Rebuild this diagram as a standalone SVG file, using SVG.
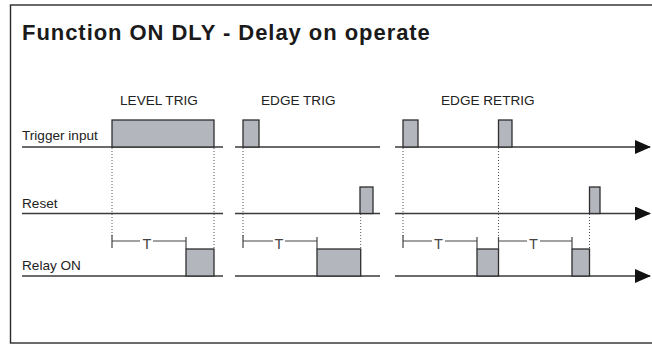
<svg xmlns="http://www.w3.org/2000/svg" width="652" height="345" viewBox="0 0 652 345">
<style>
.frame{fill:none;stroke:#2b2b2b;stroke-width:1.4}
.title{font-family:"Liberation Sans",Arial,sans-serif;font-weight:bold;font-size:22px;fill:#1a1a1a;letter-spacing:0.95px}
.lbl{font-family:"Liberation Sans",Arial,sans-serif;font-size:13.6px;fill:#222}
.tl{font-family:"Liberation Sans",Arial,sans-serif;font-size:14.5px;fill:#444}
.base{stroke:#3a3a3a;stroke-width:1.3;fill:none}
.pulse{fill:#b3b6bd;stroke:#2e2e2e;stroke-width:1.3}
.dot{stroke:#555;stroke-width:1;stroke-dasharray:1 2;fill:none}
.br{stroke:#444;stroke-width:1.2;fill:none}
</style>
<defs>
<marker id="arr" viewBox="0 0 16 14" refX="15" refY="7" markerWidth="16" markerHeight="14" markerUnits="userSpaceOnUse" orient="auto">
<path d="M0,0 L16,7 L0,14 Z" fill="#111"/>
</marker>
</defs>
<rect class="frame" x="10.5" y="5" width="660" height="338"/>
<g id="title"><text class="title" x="22" y="40">Function ON DLY - Delay on operate</text></g>
<g id="labels">
<text class="lbl" x="120" y="105">LEVEL TRIG</text>
<text class="lbl" x="261" y="105">EDGE TRIG</text>
<text class="lbl" x="441" y="105">EDGE RETRIG</text>
<text class="lbl" x="22" y="140">Trigger input</text>
<text class="lbl" x="22" y="208">Reset</text>
<text class="lbl" x="22" y="270">Relay ON</text>
</g>
<g id="connectors">
<line class="base" x1="22" y1="147" x2="223" y2="147"/>
<line class="base" x1="235" y1="147" x2="380" y2="147"/>
<line class="base" x1="395" y1="147" x2="650" y2="147" marker-end="url(#arr)"/>
<line class="base" x1="22" y1="213.5" x2="223" y2="213.5"/>
<line class="base" x1="235" y1="213.5" x2="380" y2="213.5"/>
<line class="base" x1="395" y1="213.5" x2="650" y2="213.5" marker-end="url(#arr)"/>
<line class="base" x1="22" y1="276" x2="223" y2="276"/>
<line class="base" x1="235" y1="276" x2="380" y2="276"/>
<line class="base" x1="395" y1="276" x2="650" y2="276" marker-end="url(#arr)"/>
<line class="dot" x1="112" y1="148" x2="112" y2="237"/>
<line class="dot" x1="214" y1="148" x2="214" y2="249"/>
<line class="dot" x1="243" y1="148" x2="243" y2="237"/>
<line class="dot" x1="360.7" y1="214" x2="360.7" y2="249"/>
<line class="dot" x1="403" y1="148" x2="403" y2="237"/>
<line class="dot" x1="498.5" y1="148" x2="498.5" y2="249"/>
<line class="dot" x1="589.5" y1="214" x2="589.5" y2="249"/>
</g>
<g id="level-trig">
<rect class="pulse" x="112" y="120" width="102" height="27"/>
<rect class="pulse" x="186" y="249" width="28" height="27"/>
<path class="br" d="M112,235 V248 M112,241 H140 M153,241 H186 M186,237 V249"/>
<text class="tl" x="147" y="249" text-anchor="middle">T</text>
</g>
<g id="edge-trig">
<rect class="pulse" x="243" y="120" width="16" height="27"/>
<rect class="pulse" x="360" y="187" width="13" height="26.5"/>
<rect class="pulse" x="317" y="249" width="43.7" height="27"/>
<path class="br" d="M243,235 V248 M243,241 H273 M285,241 H317 M317,237 V249"/>
<text class="tl" x="279" y="249" text-anchor="middle">T</text>
</g>
<g id="edge-retrig">
<rect class="pulse" x="403" y="120" width="15" height="27"/>
<rect class="pulse" x="498.5" y="120" width="13.5" height="27"/>
<rect class="pulse" x="589.5" y="187" width="10.5" height="26.5"/>
<rect class="pulse" x="477" y="249" width="21.5" height="27"/>
<rect class="pulse" x="572" y="249" width="17.5" height="27"/>
<path class="br" d="M403,235 V248 M403,241 H432 M445,241 H477 M477,237 V249"/>
<text class="tl" x="438.5" y="249" text-anchor="middle">T</text>
<path class="br" d="M498.5,237 V249 M498.5,241 H527 M540,241 H572 M572,237 V249"/>
<text class="tl" x="533.5" y="249" text-anchor="middle">T</text>
</g>
</svg>
